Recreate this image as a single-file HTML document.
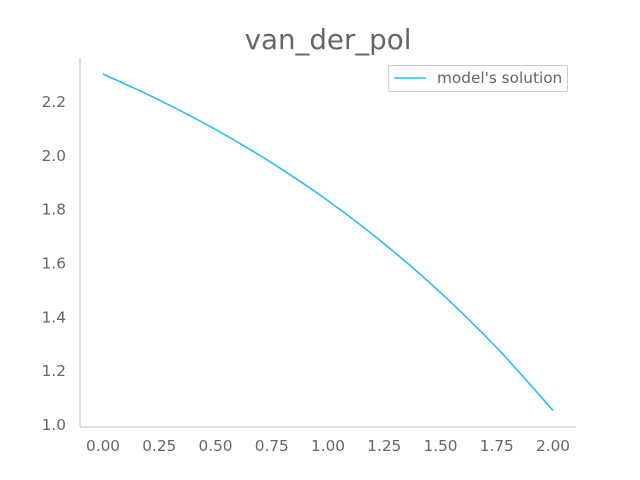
<!DOCTYPE html>
<html><head><meta charset="utf-8"><style>
body{margin:0;background:#fff;}
svg{display:block;font-family:"DejaVu Sans","Liberation Sans",sans-serif;}
</style></head><body>
<svg id="chart" width="640" height="480">
<text x="328" y="49" text-anchor="middle" font-size="27.7" fill="#666">van_der_pol</text>
<line x1="80" y1="58" x2="80" y2="427" stroke="#ccc" stroke-width="1.2"/>
<line x1="80" y1="427" x2="576" y2="427" stroke="#ccc" stroke-width="1.2"/>
<g id="xt"></g><g id="yt"></g>
<path id="line" fill="none" stroke="#29bdf5" stroke-width="1.6"/>
<g>
<rect x="388.5" y="65.5" width="179" height="26" rx="2" fill="#fff" stroke="#ccc"/>
<line x1="394" y1="78" x2="426" y2="78" stroke="#29bdf5" stroke-width="1.6"/>
<text x="437" y="83" font-size="15.3" fill="#666">model's solution</text>
</g>
</svg>
<script>
const xTicks=[0,0.25,0.5,0.75,1,1.25,1.5,1.75,2];
const yTicks=[1.0,1.2,1.4,1.6,1.8,2.0,2.2];
const xs=[0,0.25,0.5,0.75,1.0,1.25,1.5,1.75,2.0];
const ys=[2.304,2.207,2.098,1.974,1.833,1.673,1.492,1.287,1.054];
const sx=v=>103+v*225;
const sy=v=>425-(v-1)*269.2;
const NS="http://www.w3.org/2000/svg";
const xt=document.getElementById('xt'),yt=document.getElementById('yt');
xTicks.forEach(v=>{const t=document.createElementNS(NS,'text');
t.setAttribute('x',sx(v));t.setAttribute('y',451);t.setAttribute('text-anchor','middle');
t.setAttribute('font-size','15.3');t.setAttribute('fill','#666');t.textContent=v.toFixed(2);


xt.appendChild(t);});
yTicks.forEach(v=>{const t=document.createElementNS(NS,'text');
t.setAttribute('x',66);t.setAttribute('y',sy(v)+5);t.setAttribute('text-anchor','end');
t.setAttribute('font-size','15.3');t.setAttribute('fill','#666');t.textContent=v.toFixed(1);


yt.appendChild(t);});
let d='';
for(let i=0;i<xs.length;i++){
 if(i===0){d+='M'+sx(xs[0])+','+sy(ys[0]);continue;}
 const p0=i>1?[xs[i-2],ys[i-2]]:[xs[i-1],ys[i-1]],p1=[xs[i-1],ys[i-1]],p2=[xs[i],ys[i]],p3=i<xs.length-1?[xs[i+1],ys[i+1]]:p2;
 const c1x=p1[0]+(p2[0]-p0[0])/6,c1y=p1[1]+(p2[1]-p0[1])/6,c2x=p2[0]-(p3[0]-p1[0])/6,c2y=p2[1]-(p3[1]-p1[1])/6;
 d+=' C'+sx(c1x)+','+sy(c1y)+' '+sx(c2x)+','+sy(c2y)+' '+sx(p2[0])+','+sy(p2[1]);
}
document.getElementById('line').setAttribute('d',d);
</script>
</body></html>
